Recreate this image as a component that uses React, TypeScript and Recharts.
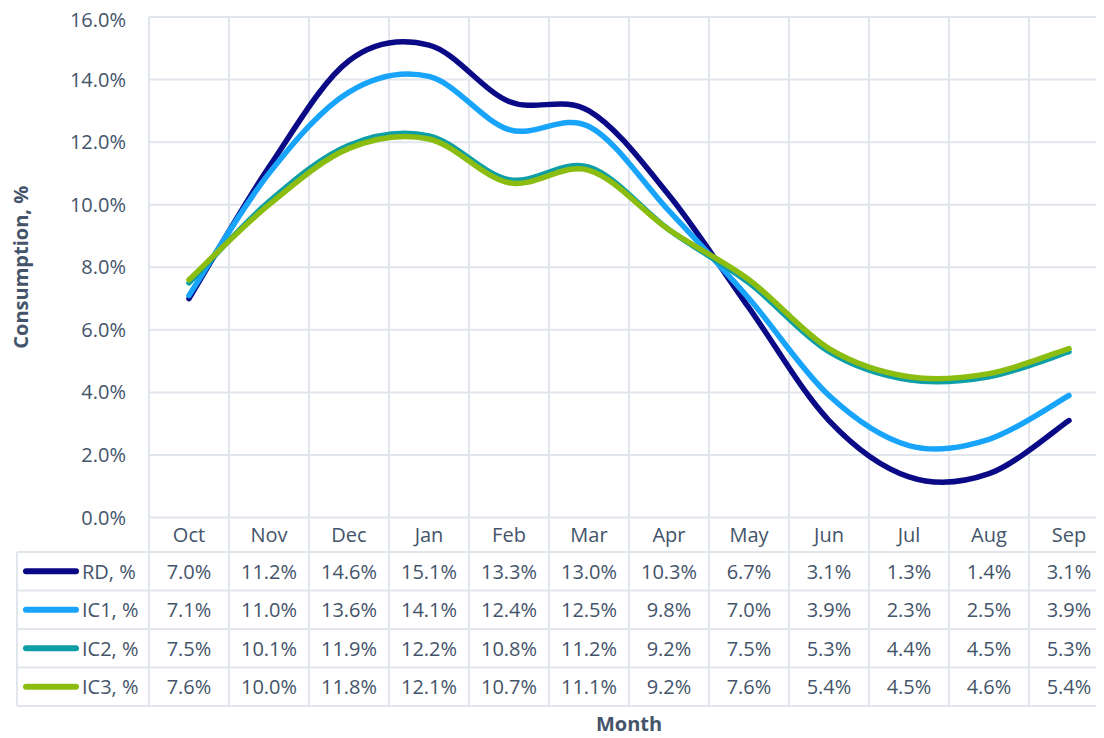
import React from 'react';
import { LineChart, Line, XAxis, YAxis, CartesianGrid } from 'recharts';

const months = ['Oct', 'Nov', 'Dec', 'Jan', 'Feb', 'Mar', 'Apr', 'May', 'Jun', 'Jul', 'Aug', 'Sep'];
const rd = [7.0, 11.2, 14.6, 15.1, 13.3, 13.0, 10.3, 6.7, 3.1, 1.3, 1.4, 3.1];
const ic1 = [7.1, 11.0, 13.6, 14.1, 12.4, 12.5, 9.8, 7.0, 3.9, 2.3, 2.5, 3.9];
const ic2 = [7.5, 10.1, 11.9, 12.2, 10.8, 11.2, 9.2, 7.5, 5.3, 4.4, 4.5, 5.3];
const ic3 = [7.6, 10.0, 11.8, 12.1, 10.7, 11.1, 9.2, 7.6, 5.4, 4.5, 4.6, 5.4];
const seriesNames = ['RD, %', 'IC1, %', 'IC2, %', 'IC3, %'];
const seriesKeys = ['rd', 'ic1', 'ic2', 'ic3'];
const seriesValues = [rd, ic1, ic2, ic3];
const seriesColors = ['#0a0a86', '#19a4fb', '#0d9ea6', '#8abd10'];
const yTicks = [0, 2, 4, 6, 8, 10, 12, 14, 16];

const data = months.map((m, i) => ({ month: m, rd: rd[i], ic1: ic1[i], ic2: ic2[i], ic3: ic3[i] }));

const TEXT = '#44546a';
const GRID = '#e1e5ec';
const FONT = '"Open Sans", sans-serif';
const FS = 20;
const BAND = 80;
const HEAD_H = 34.5;
const ROW_H = 38.5;
const LEGEND_W = 132;

// Excel-like smoothed line (Catmull-Rom as cubic Bezier)
const excelCurve = (context: any) => {
  let pts: number[][] = [];
  return {
    areaStart() {},
    areaEnd() {},
    lineStart() {
      pts = [];
    },
    point(x: number, y: number) {
      pts.push([+x, +y]);
    },
    lineEnd() {
      const n = pts.length;
      if (!n) return;
      context.moveTo(pts[0][0], pts[0][1]);
      for (let i = 0; i < n - 1; i++) {
        const p0 = pts[Math.max(i - 1, 0)];
        const p1 = pts[i];
        const p2 = pts[i + 1];
        const p3 = pts[Math.min(i + 2, n - 1)];
        context.bezierCurveTo(
          p1[0] + (p2[0] - p0[0]) / 6,
          p1[1] + (p2[1] - p0[1]) / 6,
          p2[0] - (p3[0] - p1[0]) / 6,
          p2[1] - (p3[1] - p1[1]) / 6,
          p2[0],
          p2[1]
        );
      }
    },
  };
};

const TableTick = (props: any) => {
  const { x, y, payload, index } = props;
  const half = BAND / 2;
  const bottom = y + HEAD_H + ROW_H * 4;
  const last = index === months.length - 1;
  const txt = { fontFamily: FONT, fontSize: FS, fill: TEXT };
  const els: any[] = [];
  els.push(<line key="vl" x1={x - half} x2={x - half} y1={y} y2={bottom} stroke={GRID} strokeWidth={2} />);
  if (last) els.push(<line key="vr" x1={x + half} x2={x + half} y1={y} y2={bottom} stroke={GRID} strokeWidth={2} />);
  for (let r = 0; r <= 4; r++) {
    const yy = y + HEAD_H + ROW_H * r;
    els.push(<line key={'h' + r} x1={x - half} x2={x + half} y1={yy} y2={yy} stroke={GRID} strokeWidth={2} />);
  }
  els.push(
    <text key="m" x={x} y={y + HEAD_H / 2} textAnchor="middle" dominantBaseline="central" {...txt}>
      {payload.value}
    </text>
  );
  seriesValues.forEach((vals, r) => {
    els.push(
      <text key={'v' + r} x={x} y={y + HEAD_H + ROW_H * r + ROW_H / 2} textAnchor="middle" dominantBaseline="central" {...txt}>
        {vals[index].toFixed(1) + '%'}
      </text>
    );
  });
  if (index === 0) {
    const lx = x - half - LEGEND_W;
    els.push(<line key="lv" x1={lx} x2={lx} y1={y + HEAD_H} y2={bottom} stroke={GRID} strokeWidth={2} />);
    for (let r = 0; r <= 4; r++) {
      const yy = y + HEAD_H + ROW_H * r;
      els.push(<line key={'lh' + r} x1={lx} x2={x - half} y1={yy} y2={yy} stroke={GRID} strokeWidth={2} />);
    }
    seriesNames.forEach((name, r) => {
      const cy = y + HEAD_H + ROW_H * r + ROW_H / 2;
      els.push(
        <line key={'lm' + r} x1={lx + 9} x2={lx + 59} y1={cy} y2={cy} stroke={seriesColors[r]} strokeWidth={6} strokeLinecap="round" />
      );
      els.push(
        <text key={'ln' + r} x={lx + 65} y={cy} textAnchor="start" dominantBaseline="central" {...txt}>
          {name}
        </text>
      );
    });
  }
  return <g>{els}</g>;
};

const YTitle = (props: any) => {
  const vb = props.viewBox || {};
  const cx = 12;
  const cy = vb.y + vb.height / 2;
  return (
    <text
      x={cx}
      y={cy}
      transform={`rotate(-90 ${cx} ${cy})`}
      textAnchor="middle"
      dominantBaseline="central"
      fontFamily={FONT}
      fontSize={FS}
      fontWeight="bold"
      fill={TEXT}
    >
      Consumption, %
    </text>
  );
};

const XTitle = (props: any) => {
  const vb = props.viewBox || {};
  const cx = vb.x + vb.width / 2;
  const cy = vb.y + vb.height - 15;
  return (
    <text x={cx} y={cy} textAnchor="middle" dominantBaseline="central" fontFamily={FONT} fontSize={FS} fontWeight="bold" fill={TEXT}>
      Month
    </text>
  );
};

export default function App() {
  return (
    <div style={{ width: 1102, height: 730 }}>
      <LineChart width={1102} height={730} data={data} margin={{ top: 9, right: 1, left: 0, bottom: 0 }}>
        <CartesianGrid
          stroke={GRID}
          strokeWidth={2}
          verticalCoordinatesGenerator={({ offset }: any) =>
            Array.from({ length: months.length + 1 }, (_, i) => offset.left + (i * offset.width) / months.length)
          }
        />
        <XAxis
          dataKey="month"
          height={220.5}
          padding={{ left: BAND / 2, right: BAND / 2 }}
          axisLine={false}
          tickLine={false}
          tickSize={0}
          tickMargin={0}
          interval={0}
          tick={<TableTick />}
          label={<XTitle />}
        />
        <YAxis
          width={141}
          domain={[0, 16]}
          ticks={yTicks}
          axisLine={false}
          tickLine={false}
          tickSize={0}
          tickMargin={23}
          tickFormatter={(v: number) => v.toFixed(1) + '%'}
          tick={{ fontFamily: FONT, fontSize: FS, fill: TEXT }}
          label={<YTitle />}
        />
        {seriesKeys.map((k, i) => (
          <Line
            key={k}
            dataKey={k}
            type={excelCurve as any}
            stroke={seriesColors[i]}
            strokeWidth={5.5}
            strokeLinecap="round"
            dot={false}
            activeDot={false}
            isAnimationActive={false}
          />
        ))}
      </LineChart>
    </div>
  );
}
